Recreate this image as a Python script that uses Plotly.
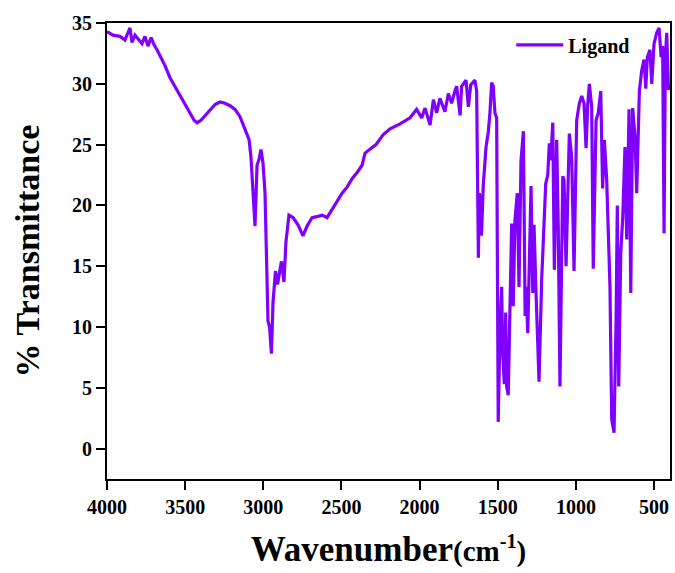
import plotly.graph_objects as go

# Wavenumber (cm^-1) and % transmittance
wavenumber = [
    4000, 3962, 3917, 3885, 3866, 3853, 3840, 3821, 3802, 3776, 3757, 3738, 3718, 3699,
    3680, 3654, 3629, 3597, 3565, 3533, 3501, 3469, 3443, 3424, 3399, 3373, 3341, 3309,
    3277, 3245, 3213, 3181, 3149, 3123, 3104, 3091, 3079, 3066, 3053, 3040, 3027, 3015,
    3002, 2989, 2976, 2970, 2960, 2948, 2938, 2922, 2909, 2900, 2884, 2868, 2855, 2836,
    2810, 2778, 2746, 2720, 2688, 2650, 2624, 2592, 2567, 2528, 2496, 2464, 2432, 2400,
    2368, 2349, 2317, 2279, 2234, 2189, 2125, 2061, 2019, 1987, 1965, 1933, 1912, 1891,
    1870, 1838, 1816, 1795, 1774, 1763, 1741, 1731, 1703, 1688, 1673, 1646, 1635, 1631,
    1624, 1618, 1613, 1604, 1593, 1575, 1560, 1550, 1539, 1529, 1518, 1507, 1497, 1486,
    1475, 1469, 1458, 1449, 1443, 1433, 1422, 1411, 1401, 1390, 1375, 1364, 1351, 1336,
    1325, 1319, 1308, 1300, 1287, 1276, 1268, 1255, 1236, 1219, 1209, 1193, 1180, 1170,
    1161, 1148, 1138, 1123, 1113, 1102, 1084, 1076, 1063, 1042, 1027, 1012, 995, 978,
    963, 948, 935, 924, 914, 899, 889, 871, 857, 841, 829, 818, 803, 782,
    771, 756, 743, 735, 726, 713, 700, 686, 675, 660, 649, 637, 622, 611,
    594, 579, 564, 553, 543, 526, 515, 500, 483, 468, 455, 445, 436, 428,
    419, 408, 400,
]
transmittance = [
    34.3, 34.0, 33.9, 33.6, 34.2, 34.6, 33.4, 34.0, 33.7, 33.3, 33.9, 33.1, 33.8, 33.2,
    32.8, 32.2, 31.5, 30.5, 29.8, 29.0, 28.3, 27.6, 27.0, 26.8, 27.0, 27.4, 27.9, 28.3,
    28.5, 28.4, 28.2, 27.9, 27.3, 26.4, 25.9, 25.4, 24.0, 21.0, 18.3, 23.3, 23.8, 24.6,
    23.5, 21.0, 15.0, 10.5, 10.0, 7.8, 12.0, 14.6, 13.5, 14.2, 15.4, 13.7, 17.0, 19.2,
    19.0, 18.4, 17.5, 18.3, 19.0, 19.1, 19.2, 19.0, 19.5, 20.3, 21.0, 21.5, 22.2, 22.7,
    23.3, 24.3, 24.6, 25.0, 25.8, 26.3, 26.7, 27.2, 27.9, 27.2, 28.0, 26.6, 28.7, 27.6,
    28.8, 27.7, 29.2, 28.4, 29.4, 29.8, 27.4, 29.8, 30.3, 28.1, 29.9, 30.3, 29.4, 21.6,
    15.7, 21.0, 20.5, 17.5, 21.6, 24.8, 26.1, 27.6, 30.1, 29.8, 27.6, 27.2, 2.2, 9.5,
    13.3, 7.9, 5.3, 11.2, 5.1, 4.4, 10.9, 18.5, 11.7, 18.8, 21.0, 13.3, 23.7, 26.1,
    10.9, 13.3, 9.5, 15.5, 21.6, 12.8, 18.4, 12.8, 5.5, 13.9, 17.4, 21.8, 22.5, 25.1,
    23.7, 26.8, 14.7, 25.4, 18.3, 5.1, 22.4, 22.1, 15.0, 25.9, 24.0, 14.6, 27.0, 28.4,
    29.0, 28.4, 24.7, 28.4, 30.0, 28.1, 14.8, 27.0, 27.6, 29.4, 21.4, 25.4, 22.1, 13.3,
    2.4, 1.3, 10.6, 20.0, 5.1, 16.1, 19.1, 24.8, 17.2, 27.9, 12.8, 28.0, 25.7, 21.0,
    29.4, 31.1, 32.0, 29.6, 32.2, 32.8, 30.0, 33.3, 34.2, 34.6, 32.2, 33.1, 17.7, 32.0,
    34.2, 29.5, 30.0,
]
x_ticks = [4000, 3500, 3000, 2500, 2000, 1500, 1000, 500]
y_ticks = [0, 5, 10, 15, 20, 25, 30, 35]
series_name = "Ligand"

FONT = "Liberation Serif, Times New Roman, serif"

fig = go.Figure()
fig.add_trace(go.Scatter(
    x=wavenumber, y=transmittance, mode="lines", name=series_name,
    line=dict(color="#8000ff", width=3.2),
    showlegend=True,
))

fig.update_layout(
    width=675, height=573,
    margin=dict(l=107, r=5, t=23, b=94),
    paper_bgcolor="white", plot_bgcolor="white",
    font=dict(family=FONT, color="black"),
    showlegend=True,
    legend=dict(
        x=0.718, y=0.995, xanchor="left", yanchor="top",
        bgcolor="rgba(0,0,0,0)", itemwidth=47,
        font=dict(family=FONT, size=20, color="black", weight="bold"),
    ),
    xaxis=dict(
        range=[4000, 398], tickvals=x_ticks,
        ticks="outside", ticklen=9, tickwidth=2, tickcolor="black",
        showline=True, linewidth=2, linecolor="black", mirror=True,
        showgrid=False, zeroline=False,
        tickfont=dict(family=FONT, size=20, color="black", weight="bold"),
        title=dict(
            text="Wavenumber<span style='font-size:29px'>(cm<sup>-1</sup>)</span>",
            font=dict(family=FONT, size=35, color="black", weight="bold"),
            standoff=19,
        ),
        automargin=False,
    ),
    yaxis=dict(
        range=[-2.5, 35], tickvals=y_ticks,
        ticks="outside", ticklen=9, tickwidth=2, tickcolor="black",
        showline=True, linewidth=2, linecolor="black", mirror=True,
        showgrid=False, zeroline=False,
        tickfont=dict(family=FONT, size=20, color="black", weight="bold"),
        title=dict(
            text="% Transmittance",
            font=dict(family=FONT, size=34, color="black", weight="bold"),
            standoff=22,
        ),
        automargin=False,
    ),
)

fig.write_html("out.html")
